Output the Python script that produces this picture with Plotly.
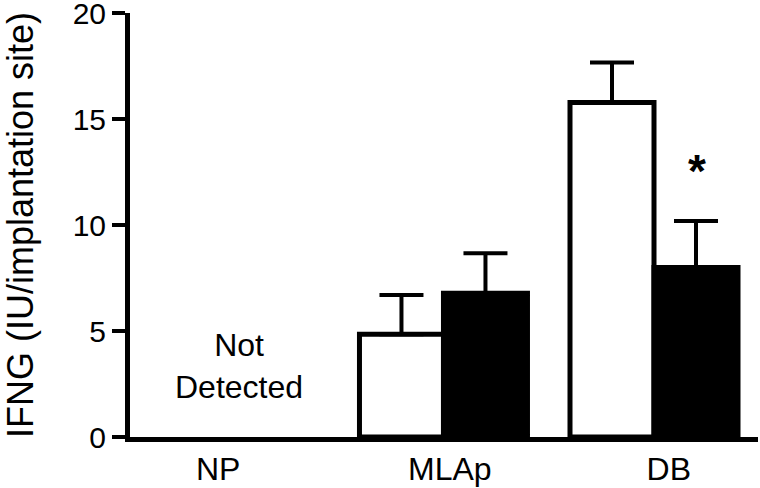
import plotly.graph_objects as go

categories = ["NP", "MLAp", "DB"]
open_means = [None, 4.85, 15.78]
open_err = [None, 1.85, 1.88]
filled_means = [None, 6.78, 8.0]
filled_err = [None, 1.89, 2.19]
y_ticks = [0, 5, 10, 15, 20]
label_nudge = [-0.07, 0.03, 0.07]

FONT = "Liberation Sans, Arial, sans-serif"
idx = list(range(len(categories)))

fig = go.Figure()
fig.add_trace(go.Bar(
    x=idx, y=open_means,
    marker=dict(color="white", line=dict(color="black", width=5)),
    error_y=dict(type="data", array=open_err, arrayminus=[0, 0, 0], symmetric=False,
                 color="black", thickness=4, width=22),
    showlegend=False, hoverinfo="skip",
))
fig.add_trace(go.Bar(
    x=idx, y=filled_means,
    marker=dict(color="black", line=dict(color="black", width=5)),
    error_y=dict(type="data", array=filled_err, arrayminus=[0, 0, 0], symmetric=False,
                 color="black", thickness=4, width=22),
    showlegend=False, hoverinfo="skip",
))

fig.add_annotation(x=0.027, y=3.35, text="Not<br>Detected", showarrow=False,
                   font=dict(family=FONT, size=32, color="black"), align="center")
fig.add_annotation(x=2.205, y=12.55, text="<b>*</b>", showarrow=False,
                   font=dict(family=FONT, size=46, color="black"))

fig.update_layout(
    width=760, height=488,
    margin=dict(l=130, r=2, t=13, b=51, autoexpand=False),
    plot_bgcolor="white", paper_bgcolor="white",
    barmode="group", bargap=0.202, bargroupgap=0,
    font=dict(family=FONT, size=32, color="black"),
)
fig.update_xaxes(
    showline=True, linecolor="black", linewidth=5, ticks="", showgrid=False,
    zeroline=False, range=[-0.489, 2.494],
    tickvals=[i + d for i, d in zip(idx, label_nudge)], ticktext=categories,
    tickfont=dict(size=32), automargin=False,
)
fig.update_yaxes(
    range=[0, 20], tickvals=y_ticks, showline=True, linecolor="black", linewidth=5,
    ticks="outside", ticklen=13, tickwidth=4, tickcolor="black", showgrid=False,
    zeroline=False, tickfont=dict(size=30), ticklabeloverflow="allow",
    title=dict(text="IFNG (IU/implantation site)", font=dict(size=36), standoff=42),
    automargin=False,
)

# remove the page's default 8px body margin so the figure sits at the window corner
fig.write_html("out.html", config={"displayModeBar": False},
               post_script="document.body.style.margin='0';")
